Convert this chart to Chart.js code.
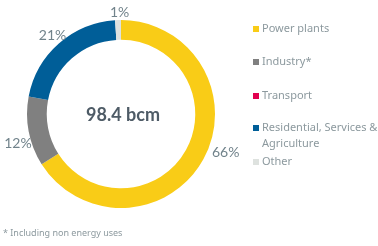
<!DOCTYPE html>
<html>
<head>
<meta charset="utf-8">
<script src="https://cdn.jsdelivr.net/npm/chart.js@4.4.1/dist/chart.umd.min.js"></script>
<style>
    html, body { margin: 0; padding: 0; background: #fff; }
    #wrap { position: relative; width: 378px; height: 246px; }
</style>
</head>
<body>
<div id="wrap"><canvas id="chart" width="378" height="246"></canvas></div>
<script>
// Gas consumption by sector (share, %)
const categories = ['Power plants', 'Industry*', 'Transport', 'Residential, Services & Agriculture', 'Other'];
const legendLines = [['Power plants'], ['Industry*'], ['Transport'], ['Residential, Services &', 'Agriculture'], ['Other']];
const shares = [66, 12, 0, 21, 1];
const shareLabels = ['66%', '12%', '', '21%', '1%'];
const colors = ['#F9CC17', '#808080', '#E2004F', '#005E98', '#DEE2DF'];
const centerText = '98.4 bcm';
const footnote = '* Including non energy uses';

const labelColor = '#71838B';
const legendColor = '#8C999E';

// small nudges so labels sit where the original placed them
const labelNudge = [[10, -14], [3, 9], [0, 0], [3, 2], [2, 6]];

// Percent labels outside the ring
const outsideLabels = {
    id: 'outsideLabels',
    afterDatasetsDraw(chart) {
        const ctx = chart.ctx;
        const meta = chart.getDatasetMeta(0);
        ctx.save();
        ctx.font = '14px Lato, "Open Sans", sans-serif';
        ctx.fillStyle = labelColor;
        ctx.textAlign = 'center';
        ctx.textBaseline = 'middle';
        meta.data.forEach((arc, i) => {
            if (!shareLabels[i]) return;
            const mid = (arc.startAngle + arc.endAngle) / 2;
            const r = arc.outerRadius + 14;
            ctx.fillText(shareLabels[i],
                arc.x + Math.cos(mid) * r + labelNudge[i][0],
                arc.y + Math.sin(mid) * r + labelNudge[i][1]);
        });
        // center total
        ctx.font = 'bold 18px Lato, "Open Sans", sans-serif';
        ctx.fillStyle = '#4E5B66';
        const a = meta.data[0];
        ctx.fillText(centerText, a.x + 2, a.y + 1);
        ctx.restore();
    }
};

// Legend on the right, with wrapped text
const sideLegend = {
    id: 'sideLegend',
    afterDraw(chart) {
        const ctx = chart.ctx;
        const rows = [29, 62, 96, 128, 162];
        ctx.save();
        ctx.font = '11px "Noto Sans", "Open Sans", sans-serif';
        ctx.textBaseline = 'middle';
        ctx.textAlign = 'left';
        categories.forEach((c, i) => {
            const y = rows[i];
            ctx.fillStyle = colors[i];
            ctx.fillRect(253, y - 3, 6, 6);
            ctx.fillStyle = legendColor;
            legendLines[i].forEach((line, j) => {
                ctx.fillText(line, 262, y + j * 16);
            });
        });
        ctx.font = '9px "Noto Sans", "Open Sans", sans-serif';
        ctx.fillStyle = '#8C999E';
        ctx.fillText(footnote, 3, 233);
        ctx.restore();
    }
};

new Chart(document.getElementById('chart'), {
    type: 'doughnut',
    data: {
        labels: categories,
        datasets: [{
            data: shares,
            backgroundColor: colors,
            borderWidth: 0
        }]
    },
    options: {
        responsive: false,
        animation: false,
        cutout: '79%',
        layout: { padding: { left: 27, top: 20, right: 163, bottom: 38 } },
        plugins: {
            legend: { display: false },
            tooltip: { enabled: false }
        }
    },
    plugins: [outsideLabels, sideLegend]
});
</script>
</body>
</html>
